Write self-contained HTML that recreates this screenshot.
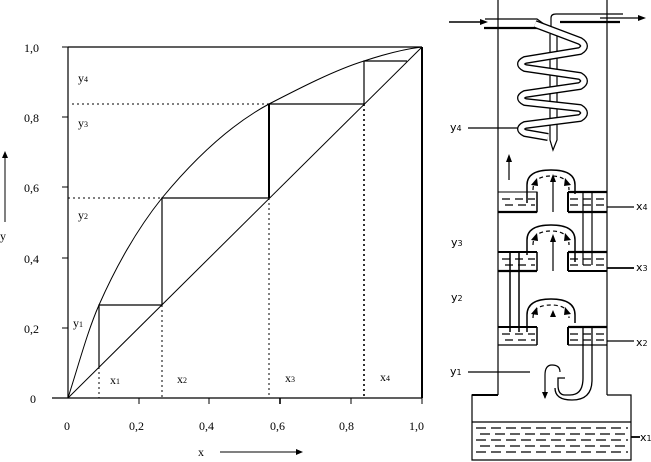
<!DOCTYPE html>
<html><head><meta charset="utf-8"><style>
html,body{margin:0;padding:0;background:#fff;}
svg{display:block;}
text{font-family:"Liberation Serif",serif;fill:#000;}
</style></head><body>
<svg width="651" height="462" viewBox="0 0 651 462" xmlns="http://www.w3.org/2000/svg">
<g stroke="#000" fill="none">
<line x1="68" y1="47" x2="422" y2="47" stroke-width="1.2"/>
<line x1="68" y1="47" x2="68" y2="398" stroke-width="1.2"/>
<line x1="422" y1="47" x2="422" y2="398" stroke-width="2"/>
<line x1="52" y1="398" x2="422" y2="398" stroke-width="1.2"/>
<line x1="62" y1="328" x2="68" y2="328"/><line x1="62" y1="258" x2="68" y2="258"/>
<line x1="62" y1="187" x2="68" y2="187"/><line x1="62" y1="117" x2="68" y2="117"/>
<line x1="62" y1="47" x2="68" y2="47"/>
<line x1="139" y1="398" x2="139" y2="404"/><line x1="209" y1="398" x2="209" y2="404"/>
<line x1="280" y1="398" x2="280" y2="404" stroke-width="1.6"/><line x1="351" y1="398" x2="351" y2="404"/>
<line x1="422" y1="398" x2="422" y2="404"/>
<line x1="68" y1="398" x2="422" y2="47"/>
<path d="M68,398 C80,360 88,330 99,305 C118,262 138,228 162,198 C195,158 230,125 269,104 C300,88 335,70 364,61 C385,54 405,49 422,47"/>
<path d="M99,367 V305 H162 V198 H269 V104 H364 V61 H407" stroke-width="1.2"/>
<line x1="269" y1="104" x2="269" y2="198" stroke-width="2"/>
<g stroke-dasharray="2,3" stroke-width="1">
<line x1="68" y1="198" x2="162" y2="198"/>
<line x1="72" y1="104" x2="269" y2="104"/>
<line x1="99" y1="367" x2="99" y2="398"/>
<line x1="162" y1="305" x2="162" y2="398"/>
<line x1="269" y1="198" x2="269" y2="398"/>
<line x1="364" y1="104" x2="364" y2="398" stroke-width="1.6"/>
</g>
<line x1="220" y1="452" x2="296" y2="452"/>
<line x1="5" y1="222" x2="5" y2="158"/>
</g>
<polygon points="296,449 303,452 296,455" fill="#000"/>
<polygon points="2,158 5,151 8,158" fill="#000"/>
<g font-size="12">
<text x="24" y="52">1,0</text><text x="24" y="122">0,8</text><text x="24" y="192">0,6</text>
<text x="24" y="263">0,4</text><text x="24" y="333">0,2</text><text x="30" y="403">0</text>
<text x="64" y="430">0</text><text x="129" y="430">0,2</text><text x="199" y="430">0,4</text>
<text x="270" y="430">0,6</text><text x="339" y="430">0,8</text><text x="409" y="430">1,0</text>
<text x="198" y="456">x</text><text x="0" y="240">y</text>
<text x="78" y="82">y<tspan font-size="8">4</tspan></text>
<text x="78" y="127">y<tspan font-size="8">3</tspan></text>
<text x="78" y="219">y<tspan font-size="8">2</tspan></text>
<text x="73" y="327">y<tspan font-size="8">1</tspan></text>
<text x="110" y="384">x<tspan font-size="8">1</tspan></text>
<text x="177" y="383">x<tspan font-size="8">2</tspan></text>
<text x="285" y="382">x<tspan font-size="8">3</tspan></text>
<text x="380" y="381">x<tspan font-size="8">4</tspan></text>
</g>

<g stroke="#000" fill="none" stroke-width="1.2">
<line x1="498" y1="0" x2="498" y2="395"/>
<line x1="607" y1="0" x2="607" y2="395"/>
<path d="M498,395 H472 V460 H631 V395 H607" />
<line x1="472" y1="395" x2="498" y2="395" stroke-width="2"/>
<line x1="472" y1="422" x2="631" y2="422"/>
<g stroke-dasharray="10,5">
<line x1="476" y1="428" x2="628" y2="428"/><line x1="480" y1="434" x2="628" y2="434"/>
<line x1="476" y1="440" x2="628" y2="440"/><line x1="480" y1="446" x2="628" y2="446"/>
<line x1="476" y1="452" x2="628" y2="452"/>
</g>
<!-- inlet / outlet pipes -->
<line x1="449" y1="22" x2="480" y2="22" stroke-width="1.6"/>
<path d="M485,19 H537 L548,27"/>
<line x1="484" y1="28" x2="538" y2="28" stroke-width="2.2"/>
<path d="M551,30 V18 Q551,14 556,14 H623"/>
<line x1="560" y1="22" x2="620" y2="22" stroke-width="2.2"/>
<line x1="600" y1="18" x2="640" y2="18"/>
<!-- central pipe -->
<path d="M550,34 V140 L553,150 L557,140 V34"/>
<!-- coil tube -->
<path d="M535,24 L580,41 Q588,46 580,51 L525,60 Q517,64 525,68 L580,76 Q588,81 580,86 L525,94 Q517,98 525,102 L580,108 Q588,113 580,118 L525,125 Q517,129 525,133 L548,137" stroke-width="8" stroke-linejoin="round"/>
<path d="M535,24 L580,41 Q588,46 580,51 L525,60 Q517,64 525,68 L580,76 Q588,81 580,86 L525,94 Q517,98 525,102 L580,108 Q588,113 580,118 L525,125 Q517,129 525,133 L548,137" stroke="#fff" stroke-width="5.4" stroke-linejoin="round"/>
<line x1="468" y1="128" x2="518" y2="128"/>
<!-- tray 4 -->
<path d="M498,192 H537 V212 H498" stroke-width="1"/>
<line x1="498" y1="212" x2="537" y2="212" stroke-width="2.2"/>
<line x1="537" y1="212" x2="537" y2="192" stroke-width="1.5"/>
<line x1="568" y1="212" x2="607" y2="212" stroke-width="2.2"/>
<line x1="568" y1="192" x2="607" y2="192" stroke-width="2.2"/>
<line x1="568" y1="192" x2="568" y2="212" stroke-width="2"/>
<path d="M527,203 V185 Q527,170 551,170 Q575,170 575,185 V194" stroke-width="1.5"/>
<path d="M533,190 Q533,176 551,176 Q569,176 569,190" stroke-dasharray="4,3"/>
<g stroke-dasharray="8,5"><line x1="502" y1="199" x2="535" y2="199"/><line x1="505" y1="205" x2="535" y2="205"/><line x1="570" y1="199" x2="605" y2="199"/><line x1="570" y1="205" x2="605" y2="205"/></g>
<path d="M583,192 V265 M592,192 V265"/>
<!-- tray 3 -->
<line x1="498" y1="252" x2="537" y2="252" stroke-width="2"/>
<line x1="498" y1="271" x2="537" y2="271" stroke-width="2.2"/>
<line x1="537" y1="252" x2="537" y2="271" stroke-width="1.5"/>
<line x1="568" y1="252" x2="607" y2="252" stroke-width="2.2"/>
<line x1="568" y1="271" x2="607" y2="271" stroke-width="2"/>
<line x1="568" y1="252" x2="568" y2="271" stroke-width="2"/>
<path d="M527,255 V240 Q527,225 551,225 Q575,225 575,240 V262" stroke-width="1.5"/>
<path d="M533,245 Q533,231 551,231 Q569,231 569,245" stroke-dasharray="4,3"/>
<g stroke-dasharray="8,5"><line x1="502" y1="259" x2="535" y2="259"/><line x1="505" y1="265" x2="535" y2="265"/><line x1="570" y1="259" x2="605" y2="259"/><line x1="570" y1="265" x2="605" y2="265"/></g>
<path d="M510,252 V332 M519,252 V332" stroke-width="1.5"/>
<!-- tray 2 -->
<line x1="498" y1="327" x2="537" y2="327" stroke-width="2"/>
<line x1="498" y1="345" x2="537" y2="345" stroke-width="1.2"/>
<line x1="537" y1="327" x2="537" y2="345" stroke-width="1.5"/>
<line x1="568" y1="327" x2="607" y2="327" stroke-width="2.2"/>
<line x1="568" y1="345" x2="607" y2="345" stroke-width="1.2"/>
<line x1="568" y1="327" x2="568" y2="345" stroke-width="2"/>
<path d="M527,332 V315 Q527,299 551,299 Q575,299 575,315 V323" stroke-width="1.5"/>
<path d="M533,318 Q533,305 551,305 Q569,305 569,318" stroke-dasharray="4,3"/>
<g stroke-dasharray="8,5"><line x1="502" y1="334" x2="535" y2="334"/><line x1="505" y1="340" x2="535" y2="340"/><line x1="570" y1="334" x2="605" y2="334"/><line x1="570" y1="340" x2="605" y2="340"/></g>
<path d="M583,327 V378 Q583,395 570,395 H565 Q558,395 558,385 V378 H565 M592,327 V380 Q592,400 572,400 Q555,400 555,388" stroke-width="1.3"/>
<line x1="509" y1="180" x2="509" y2="160"/>
<line x1="553" y1="212" x2="553" y2="180"/>
<line x1="553" y1="271" x2="553" y2="240"/>
<path d="M545,398 V375 Q545,365 552,365 Q560,365 560,372"/>
<line x1="468" y1="372" x2="530" y2="372"/>
<line x1="607" y1="207" x2="634" y2="207"/>
<line x1="607" y1="268" x2="634" y2="268" stroke-width="1.8"/>
<line x1="607" y1="341" x2="634" y2="341"/>
<line x1="631" y1="437" x2="640" y2="437" stroke-width="1.8"/>
</g>
<g fill="#000">
<polygon points="480,19 488,22 480,25"/>
<polygon points="638,15 646,18 638,21"/>
<polygon points="506,162 509,154 512,162"/>
<polygon points="550,182 553,174 556,182"/>
<polygon points="550,242 553,234 556,242"/>
<polygon points="550,317 553,310 556,317"/>
<polygon points="542,392 545,399 548,392"/>
<polygon points="531,185 537,178 538,186"/>
<polygon points="571,185 565,178 564,186"/>
<polygon points="531,240 537,233 538,241"/>
<polygon points="571,240 565,233 564,241"/>
<polygon points="531,314 537,307 538,315"/>
<polygon points="571,314 565,307 564,315"/>
</g>
<g font-size="11" style="font-family:'DejaVu Sans',sans-serif">
<text x="450" y="131" style="font-family:'DejaVu Sans',sans-serif">y<tspan font-size="8">4</tspan></text>
<text x="451" y="246" style="font-family:'DejaVu Sans',sans-serif">y<tspan font-size="8">3</tspan></text>
<text x="451" y="301" style="font-family:'DejaVu Sans',sans-serif">y<tspan font-size="8">2</tspan></text>
<text x="450" y="375" style="font-family:'DejaVu Sans',sans-serif">y<tspan font-size="8">1</tspan></text>
<text x="636" y="210" style="font-family:'DejaVu Sans',sans-serif">x<tspan font-size="8">4</tspan></text>
<text x="636" y="271" style="font-family:'DejaVu Sans',sans-serif">x<tspan font-size="8">3</tspan></text>
<text x="636" y="346" style="font-family:'DejaVu Sans',sans-serif">x<tspan font-size="8">2</tspan></text>
<text x="640" y="441" style="font-family:'DejaVu Sans',sans-serif">x<tspan font-size="8">1</tspan></text>
</g>
</svg>
</body></html>
